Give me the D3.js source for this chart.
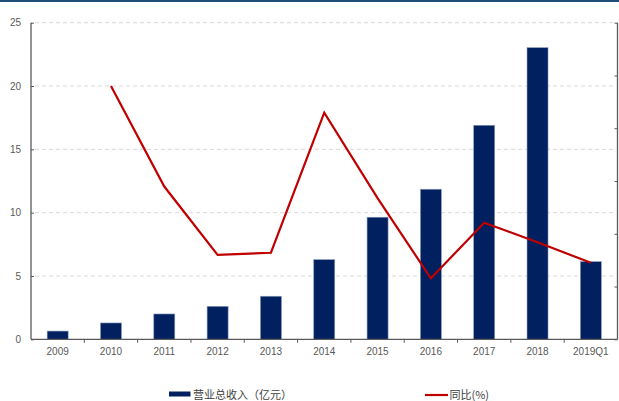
<!DOCTYPE html>
<html>
<head>
<meta charset="utf-8">
<script src="https://cdn.jsdelivr.net/npm/d3@7"></script>
<style>
  html, body { margin: 0; padding: 0; background: #fff; }
  svg { display: block; }
</style>
</head>
<body>
<svg id="chart" width="619" height="401"></svg>
<script>
// Categories (years) and series
const categories = ["2009", "2010", "2011", "2012", "2013", "2014", "2015", "2016", "2017", "2018", "2019Q1"];
const revenue = [0.65, 1.29, 2.0, 2.6, 3.4, 6.29, 9.64, 11.85, 16.9, 23.03, 6.13];      // 营业总收入（亿元）
const yoy = [null, 96.0, 57.9, 32.0, 32.8, 85.9, 53.5, 23.1, 44.2, 36.8, 29.0];           // 同比(%)
const leftTicks = [0, 5, 10, 15, 20, 25];
const rightTicks = [0, 20, 40, 60, 80, 100, 120];
const legendLabels = ["营业总收入（亿元）", "同比(%)"];

const W = 619, H = 401;
const plot = { left: 31, right: 617.5, top: 22.7, bottom: 339.3 };
const axisColor = "#595959";
const barColor = "#002060";
const lineColor = "#c00000";
const font = "'Liberation Sans', Arial, sans-serif";
const cjkFont = "'Noto Sans CJK SC', 'Liberation Sans', sans-serif";

const svg = d3.select("#chart");

// top banner rule
svg.append("rect").attr("x", 0).attr("y", 0).attr("width", W).attr("height", 2).attr("fill", "#1f4e79");

const x = d3.scaleBand().domain(categories).range([plot.left, plot.right]).paddingInner(0).paddingOuter(0);
const yL = d3.scaleLinear().domain([0, 25]).range([plot.bottom, plot.top]);
const yR = d3.scaleLinear().domain([0, 120]).range([plot.bottom, plot.top]);

// dashed gridlines
svg.append("g").selectAll("line").data(leftTicks.filter(d => d > 0)).join("line")
  .attr("x1", plot.left + 4).attr("x2", plot.right - 2)
  .attr("y1", d => yL(d)).attr("y2", d => yL(d))
  .attr("stroke", "#d9d9d9").attr("stroke-width", 1).attr("stroke-dasharray", "4,3");

// bars
const barW = 21;
svg.append("g").selectAll("rect").data(revenue).join("rect")
  .attr("x", (d, i) => x(categories[i]) + x.bandwidth() / 2 - barW / 2)
  .attr("y", d => yL(d))
  .attr("width", barW)
  .attr("height", d => yL(0) - yL(d))
  .attr("fill", barColor)
  .attr("stroke", "#8a9bbb").attr("stroke-width", 0.6);

// YoY line
const line = d3.line()
  .defined(d => d != null)
  .x((d, i) => x(categories[i]) + x.bandwidth() / 2)
  .y(d => yR(d));
svg.append("path").datum(yoy)
  .attr("d", line)
  .attr("fill", "none").attr("stroke", lineColor).attr("stroke-width", 2.2)
  .attr("stroke-linejoin", "miter");

// left axis
const leftAxis = svg.append("g").attr("transform", `translate(${plot.left},0)`)
  .call(d3.axisLeft(yL).tickValues(leftTicks).tickSize(-3).tickPadding(10).tickFormat(d3.format("d")));
leftAxis.select(".domain").attr("stroke", axisColor).attr("stroke-width", 1.3).attr("d", `M0,${plot.top}V${plot.bottom}`);
leftAxis.selectAll(".tick line").attr("stroke", axisColor);
leftAxis.selectAll("text").attr("fill", axisColor).style("font-family", font).style("font-size", "10px");

// right axis (percent scale)
const rightAxis = svg.append("g").attr("transform", `translate(${plot.right},0)`)
  .call(d3.axisRight(yR).tickValues(rightTicks).tickSize(-3).tickFormat(""));
rightAxis.select(".domain").attr("stroke", axisColor).attr("stroke-width", 1.3).attr("d", `M0,${plot.top}V${plot.bottom}`);
rightAxis.selectAll(".tick line").attr("stroke", axisColor);

// bottom axis: ticks at band boundaries
const xAxisG = svg.append("g");
xAxisG.append("line")
  .attr("x1", plot.left).attr("x2", plot.right)
  .attr("y1", plot.bottom).attr("y2", plot.bottom)
  .attr("stroke", axisColor).attr("stroke-width", 1.3);
xAxisG.selectAll("line.tk").data(categories.slice(1)).join("line").attr("class", "tk")
  .attr("x1", d => x(d)).attr("x2", d => x(d))
  .attr("y1", plot.bottom).attr("y2", plot.bottom + 3.5)
  .attr("stroke", axisColor).attr("stroke-width", 1);
xAxisG.selectAll("text").data(categories).join("text")
  .attr("x", d => x(d) + x.bandwidth() / 2)
  .attr("y", plot.bottom + 16)
  .attr("text-anchor", "middle")
  .attr("fill", axisColor)
  .style("font-family", font).style("font-size", "10px")
  .text(d => d);

// legend
const lg = svg.append("g");
lg.append("rect").attr("x", 169).attr("y", 391.5).attr("width", 21.5).attr("height", 5).attr("fill", barColor);
lg.append("text").attr("x", 193).attr("y", 398.5)
  .attr("fill", "#404040").style("font-family", cjkFont).style("font-size", "11px")
  .text(legendLabels[0]);
lg.append("line").attr("x1", 425).attr("x2", 448).attr("y1", 395).attr("y2", 395)
  .attr("stroke", lineColor).attr("stroke-width", 2.2);
lg.append("text").attr("x", 449.5).attr("y", 398.5)
  .attr("fill", "#404040").style("font-family", cjkFont).style("font-size", "11px")
  .text(legendLabels[1]);
</script>
</body>
</html>
